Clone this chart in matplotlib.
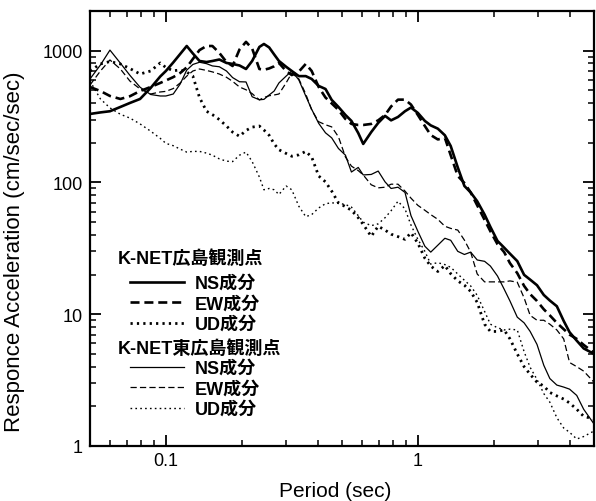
import matplotlib
matplotlib.use("Agg")
import matplotlib.pyplot as plt
from matplotlib.font_manager import FontProperties
from matplotlib.ticker import NullFormatter, LogLocator

plt.rcParams['font.family'] = ['Liberation Sans', 'Noto Sans CJK JP', 'DejaVu Sans']
plt.rcParams['lines.scale_dashes'] = False

# period axis (sec), shared by all six spectra
periods = [0.050, 0.055, 0.060, 0.066, 0.072, 0.079, 0.087, 0.095, 0.100, 0.107,
           0.114, 0.121, 0.128, 0.136, 0.145, 0.153, 0.163, 0.174, 0.184, 0.196,
           0.208, 0.220, 0.235, 0.245, 0.257, 0.269, 0.281, 0.300, 0.316, 0.337,
           0.359, 0.379, 0.404, 0.430, 0.455, 0.484, 0.516, 0.545, 0.580, 0.607,
           0.653, 0.696, 0.741, 0.783, 0.834, 0.889, 0.939, 1.000, 1.066, 1.125,
           1.20, 1.28, 1.35, 1.44, 1.53, 1.62, 1.72, 1.84, 1.94, 2.07,
           2.20, 2.32, 2.48, 2.64, 2.79, 2.97, 3.16, 3.34, 3.56, 3.79,
           4.00, 4.27, 4.55, 5.00]

# K-NET Hiroshima
ns_hiroshima = [331, 340, 347, 374, 401, 430, 521, 637, 701, 814,
                944, 1085, 952, 835, 820, 835, 857, 807, 793, 772,
                726, 835, 1067, 1124, 1058, 936, 835, 755, 701, 641,
                641, 610, 540, 512, 423, 374, 325, 293, 237, 196,
                241, 283, 320, 296, 314, 347, 370, 337, 293, 271,
                256, 228, 189, 130, 94, 84, 72, 57, 46, 36,
                32, 28.8, 25.3, 19.9, 18.3, 16.6, 14.0, 12.7, 11.5, 8.9,
                7.3, 6.3, 5.5, 5.0]
ew_hiroshima = [530, 494, 453, 430, 451, 494, 530, 569, 594, 630,
                677, 747, 865, 1010, 1085, 1085, 962, 820, 765, 1021,
                1166, 1038, 726, 716, 733, 761, 807, 701, 653, 693,
                793, 701, 530, 441, 398, 355, 303, 278, 273, 273,
                278, 296, 325, 377, 425, 425, 390, 325, 268, 229,
                212, 218, 161, 112, 99, 84, 67, 52, 42.6, 34,
                29.6, 24.4, 20.5, 16.4, 14.2, 12.6, 10.9, 9.8, 8.6, 7.7,
                7.0, 6.5, 5.85, 5.1]
ud_hiroshima = [701, 793, 827, 793, 732, 665, 701, 807, 745, 704,
                714, 688, 641, 441, 347, 327, 300, 268, 241, 224,
                248, 263, 268, 250, 228, 196, 177, 166, 158, 162,
                172, 156, 112, 101, 86, 70, 65.5, 61.5, 54, 48,
                39, 46.5, 43.5, 40.5, 38.8, 37, 41.5, 34.6, 26.6, 23.2,
                21.1, 23.4, 20.3, 17.9, 16.6, 14.9, 12.3, 8.4, 7.4, 7.4,
                7.6, 6.5, 5.0, 4.0, 3.5, 3.05, 2.85, 2.55, 2.4, 2.27,
                2.12, 1.9, 1.68, 1.6]

# K-NET Higashi-Hiroshima
ns_higashi = [610, 779, 1010, 804, 650, 528, 465, 453, 453, 469,
              559, 712, 786, 817, 797, 766, 755, 701, 625, 581,
              579, 447, 424, 427, 461, 494, 569, 641, 701, 600,
              453, 359, 281, 238, 218, 181, 161, 120, 130, 114,
              115, 122, 101, 90, 92, 84, 56, 42.6, 32.8, 29.6,
              33.4, 37.7, 36.4, 30, 28.4, 29.6, 25.8, 25.2, 23.2, 19.5,
              15.5, 12.6, 9.5, 8.6, 7.4, 5.9, 4.1, 3.25, 2.9, 2.8,
              2.7, 2.42, 1.9, 1.47]
ew_higashi = [549, 701, 850, 726, 588, 512, 469, 486, 491, 516,
              569, 641, 701, 726, 708, 690, 665, 628, 585, 530,
              505, 472, 423, 441, 455, 461, 469, 569, 677, 610,
              469, 355, 289, 274, 264, 222, 156, 133, 123, 114,
              96, 91, 92, 97, 97, 86, 76, 67, 61.5, 57,
              52.5, 46.5, 44.8, 43.5, 36.5, 29.6, 20.2, 17.6, 17.6, 17.6,
              17.6, 17.9, 17.5, 13.3, 9.8, 9.0, 9.0, 8.4, 7.6, 6.5,
              4.3, 4.0, 3.7, 3.05]
ud_higashi = [588, 430, 368, 329, 308, 278, 245, 216, 198, 190,
              179, 170, 172, 172, 167, 161, 151, 145, 144, 161,
              170, 144, 110, 88, 90, 88, 81, 94, 88, 66,
              55, 57, 64, 69, 70, 69.5, 68, 65, 56, 50,
              47, 48.5, 54, 61, 72, 63, 47.5, 37, 30, 24,
              24.6, 23.8, 22.7, 20.2, 18.1, 16.4, 13.9, 10.5, 8.4, 7.9,
              7.6, 7.7, 7.6, 5.2, 3.95, 3.2, 2.5, 2.15, 1.64, 1.37,
              1.27, 1.13, 1.18, 1.3]

station_names = ["K-NET広島観測点", "K-NET東広島観測点"]
component_labels = ["NS成分", "EW成分", "UD成分"]

fig = plt.figure(figsize=(5.96, 5.02), dpi=100)
ax = fig.add_axes([90 / 596, 55 / 502, 504 / 596, 435 / 502])

thick = dict(color="black", lw=1.9)
thin = dict(color="black", lw=0.9)
l1, = ax.plot(periods, ns_hiroshima, **thick)
l2, = ax.plot(periods, ew_hiroshima, dashes=(6.5, 3.5), **thick)
l3, = ax.plot(periods, ud_hiroshima, color="black", lw=2.0, dashes=(1.6, 3.0))
l4, = ax.plot(periods, ns_higashi, **thin)
l5, = ax.plot(periods, ew_higashi, dashes=(4.5, 2.3), **thin)
l6, = ax.plot(periods, ud_higashi, color="black", lw=1.0, dashes=(1.2, 2.3))

ax.set_xscale("log")
ax.set_yscale("log")
ax.set_xlim(0.05, 5)
ax.set_ylim(1, 2000)
ax.set_xticks([0.1, 1])
ax.set_xticklabels(["0.1", "1"])
ax.set_yticks([1, 10, 100, 1000])
ax.set_yticklabels(["1", "10", "100", "1000"])
ax.xaxis.set_minor_locator(LogLocator(base=10, subs=range(2, 10)))
ax.yaxis.set_minor_locator(LogLocator(base=10, subs=range(2, 10)))
ax.xaxis.set_minor_formatter(NullFormatter())
ax.yaxis.set_minor_formatter(NullFormatter())
ax.tick_params(which="both", direction="in", top=True, right=True)
ax.tick_params(which="major", length=8, width=1.3, labelsize=13, pad=5)
ax.tick_params(which="minor", length=4.5, width=1.1)
ax.tick_params(axis="x", which="major", pad=4)
for sp in ax.spines.values():
    sp.set_linewidth(1.6)

fig.text(15 / 596, 1 - 252 / 502, "Responce Acceleration (cm/sec/sec)",
         rotation=90, ha="center", va="center", fontsize=16)
fig.text(335 / 596, 1 - 492 / 502, "Period (sec)",
         ha="center", va="center", fontsize=15)

leg_font = FontProperties(family=["Liberation Sans", "Noto Sans CJK JP"],
                          weight="bold", size=13)
common = dict(loc="upper left", frameon=False, prop=leg_font, handlelength=3.0,
              handletextpad=0.6, labelspacing=0.2, borderpad=0, borderaxespad=0)
leg1 = ax.legend([l1, l2, l3], component_labels,
                 bbox_to_anchor=(0.079, 0.3935), **common)
ax.add_artist(leg1)
leg2 = ax.legend([l4, l5, l6], component_labels,
                 bbox_to_anchor=(0.079, 0.198), **common)

ax.text(0.055, 0.432, station_names[0], transform=ax.transAxes, va="center",
        fontproperties=leg_font)
ax.text(0.055, 0.225, station_names[1], transform=ax.transAxes, va="center",
        fontproperties=leg_font)

fig.savefig("out.png", dpi=100)
